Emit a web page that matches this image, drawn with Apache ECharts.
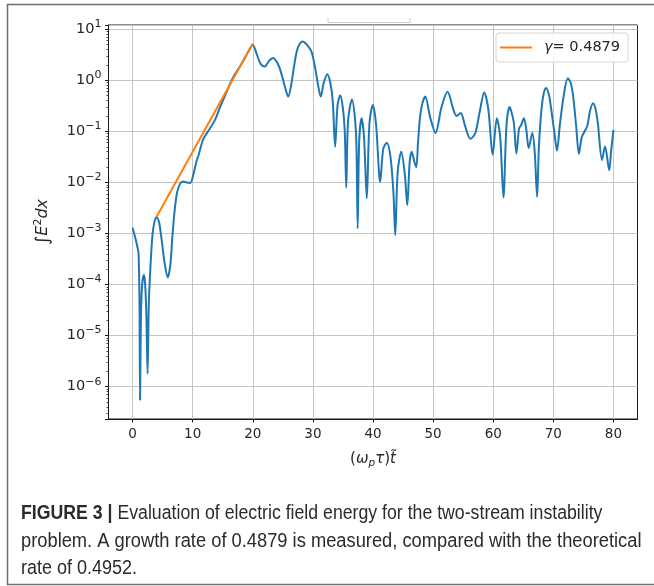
<!DOCTYPE html>
<html>
<head>
<meta charset="utf-8">
<script src="https://cdn.jsdelivr.net/npm/echarts@6/dist/echarts.min.js"></script>
<style>
  html, body { margin: 0; padding: 0; background: #ffffff; }
  #chart { width: 654px; height: 586px; }
</style>
</head>
<body>
<div id="chart"></div>
<script>
// Normalised time (omega_p tau) t~
const timeValues = [
  0, 0.4, 0.8, 1.0, 1.15, 1.25, 1.4, 1.6, 1.9, 2.1,
  2.3, 2.5, 2.7, 3.0, 3.3, 3.6, 4.0, 4.4, 4.85, 5.3,
  5.85, 6.3, 6.6, 7.0, 7.4, 7.9, 8.4, 9.0, 9.6, 10.1,
  10.6, 11.0, 11.8, 12.9, 13.7, 14.56, 15.67, 16.77, 18.17, 19.2,
  20.0, 20.7, 21.3, 22.0, 22.7, 23.4, 24.0, 24.5, 25.0, 25.4,
  25.9, 26.4, 26.9, 27.4, 27.9, 28.3, 28.8, 29.3, 29.8, 30.4,
  30.9, 31.3, 31.8, 32.4, 32.9, 33.3, 33.7, 34.1, 34.55, 35.0,
  35.3, 35.55, 35.85, 36.5, 37.0, 37.25, 37.45, 37.7, 38.1, 38.5,
  38.97, 39.4, 39.97, 40.5, 41.2, 41.7, 42.3, 42.9, 43.4, 43.7,
  44.1, 44.7, 45.3, 45.7, 46.1, 46.45, 46.9, 47.2, 47.5, 47.8,
  48.2, 48.7, 49.5, 50.4, 51.4, 52.4, 53.4, 53.9, 54.6, 55.3,
  56.2, 57.0, 57.8, 58.5, 59.2, 59.9, 60.6, 61.15, 61.7, 62.2,
  62.7, 63.4, 63.85, 64.3, 64.6, 65.1, 65.5, 65.9, 66.5, 66.9,
  67.3, 67.6, 68.0, 68.4, 68.8, 69.3, 69.75, 70.2, 70.6, 71.1,
  71.7, 72.4, 72.9, 73.3, 73.8, 74.25, 74.75, 75.6, 76.1, 76.6,
  77.0, 77.4, 78.1, 78.6, 79.3, 79.6, 80.0
];

// Integrated field energy  \int E^2 dx  at each time above
const energyValues = [
  1.3e-3, 8.7e-4, 5.5e-4, 4.0e-4, 5.0e-5, 5.5e-7, 2.5e-5, 1.0e-4, 1.55e-4, 1.0e-4,
  2.5e-5, 1.8e-6, 4.0e-5, 2.5e-4, 8.9e-4, 1.6e-3, 2.1e-3, 1.7e-3, 7.4e-4, 2.8e-4,
  1.38e-4, 2.5e-4, 8.0e-4, 2.8e-3, 6.3e-3, 9.5e-3, 1.05e-2, 1.0e-2, 9.8e-3, 1.4e-2,
  2.5e-2, 3.5e-2, 7.2e-2, 0.115, 0.166, 0.30, 0.60, 1.17, 2.14, 3.55,
  4.9, 3.16, 2.1, 1.86, 2.4, 2.75, 2.3, 1.7, 1.07, 0.71,
  0.48, 0.83, 2.0, 4.0, 5.4, 5.75, 5.25, 4.5, 3.55, 1.7,
  0.76, 0.48, 0.89, 1.32, 0.89, 0.4, 0.05, 0.32, 0.51, 0.28,
  0.1, 7.9e-3, 0.16, 0.42, 0.18, 0.05, 1.26e-3, 0.063, 0.18, 0.079,
  4.9e-3, 0.14, 0.33, 0.14, 1.02e-2, 0.045, 0.06, 0.032, 6.3e-3, 9.3e-4,
  0.0158, 0.04, 0.0141, 3.6e-3, 0.025, 0.04, 0.025, 0.02, 0.063, 0.18,
  0.35, 0.48, 0.19, 0.093, 0.30, 0.60, 0.26, 0.20, 0.23, 0.13,
  0.072, 0.091, 0.26, 0.575, 0.26, 0.035, 0.18, 0.079, 5.1e-3, 0.126,
  0.30, 0.155, 0.037, 0.115, 0.13, 0.18, 0.11, 0.047, 0.093, 0.04,
  5.2e-3, 0.05, 0.25, 0.56, 0.71, 0.50, 0.22, 0.089, 0.042, 0.14,
  0.48, 1.1, 0.89, 0.48, 0.126, 0.036, 0.079, 0.123, 0.25, 0.355,
  0.28, 0.145, 0.0275, 0.051, 0.0174, 0.04, 0.107
];

// Exponential growth fit over the linear phase
const growthRate = 0.4879;
const fitTimes = [4, 20];
const fitStartEnergy = 2.14e-3;

// Axis ticks
const xTicks = [0, 10, 20, 30, 40, 50, 60, 70, 80];
const yDecades = [-6, -5, -4, -3, -2, -1, 0, 1];

const fieldEnergy = timeValues.map((t, i) => [t, energyValues[i]]);
const growthFit = fitTimes.map(t => [t, fitStartEnergy * Math.exp(growthRate * (t - fitTimes[0]))]);
const fitName = 'gamma';

const supMap = { '-': '\u2212' };
function decadeLabel(value) {
  const e = Math.log10(value);
  const r = Math.round(e);
  if (Math.abs(e - r) > 1e-6 || yDecades.indexOf(r) < 0) return '';
  const expText = String(r).split('').map(c => supMap[c] || c).join('');
  return '{b|10}{s|' + expText + '}';
}

const textColor = '#262626';
const spineColor = '#1a1a1a';
const gridColor = '#c4c4c4';
const chart = echarts.init(document.getElementById('chart'), null, { renderer: 'canvas' });

chart.setOption({
  animation: false,
  backgroundColor: '#ffffff',
  textStyle: { fontFamily: 'DejaVu Sans' },
  grid: {
    left: 108.5, top: 25, width: 529, height: 394,
    show: true, borderColor: spineColor, borderWidth: 1, backgroundColor: 'transparent'
  },
  legend: {
    data: [fitName],
    left: 496, top: 33,
    orient: 'vertical',
    padding: [7, 8, 7, 4],
    icon: 'rect',
    itemWidth: 32, itemHeight: 2,
    backgroundColor: 'rgba(255,255,255,0.85)',
    borderColor: '#d5d5d5', borderWidth: 1, borderRadius: 3,
    formatter: () => '{g|\u03b3}{n|= 0.4879}',
    textStyle: {
      color: textColor,
      rich: {
        g: { fontFamily: 'DejaVu Sans', fontStyle: 'italic', fontSize: 14.5, color: textColor, padding: [0, 0, 0, 7] },
        n: { fontFamily: 'DejaVu Sans', fontSize: 14.5, color: textColor }
      }
    }
  },
  xAxis: {
    type: 'value',
    min: -4, max: 84,
    name: '{p|(}{i|\u03c9}{sub|p}{i|\u03c4}{p|)}{i|t\u0303}',
    nameLocation: 'middle', nameGap: 31,
    nameTextStyle: {
      rich: {
        p: { fontFamily: 'DejaVu Sans', fontSize: 15, color: textColor },
        i: { fontFamily: 'DejaVu Sans', fontStyle: 'italic', fontSize: 15, color: textColor },
        sub: { fontFamily: 'DejaVu Sans', fontStyle: 'italic', fontSize: 10.5, color: textColor, padding: [8, 0, 0, 0] }
      }
    },
    axisLine: { show: true, onZero: false, lineStyle: { color: spineColor, width: 1 } },
    axisTick: { show: true, length: 3.5, inside: false, customValues: xTicks, lineStyle: { color: spineColor } },
    axisLabel: {
      margin: 8, fontSize: 13.5, color: textColor, fontFamily: 'DejaVu Sans',
      customValues: xTicks
    },
    splitLine: { show: true, lineStyle: { color: gridColor, width: 1 } }
  },
  yAxis: {
    type: 'log', logBase: 10,
    min: 2.33e-7, max: 12.13,
    splitNumber: 8,
    name: '{s|\u222b}{i|E}{sup|2}{i|dx}',
    nameLocation: 'middle', nameGap: 55, nameRotate: 90,
    nameTextStyle: {
      rich: {
        s: { fontFamily: 'DejaVu Sans', fontSize: 18, color: textColor },
        i: { fontFamily: 'DejaVu Sans', fontStyle: 'italic', fontSize: 16, color: textColor },
        sup: { fontFamily: 'DejaVu Sans', fontSize: 11, color: textColor, padding: [0, 0, 10, 0] }
      }
    },
    axisLine: { show: true, onZero: false, lineStyle: { color: spineColor, width: 1 } },
    axisTick: { show: true, length: 3.5, inside: false, lineStyle: { color: spineColor } },
    minorTick: { show: true, splitNumber: 9, length: 2, lineStyle: { color: spineColor, width: 0.8 } },
    axisLabel: {
      margin: 7, color: textColor,
      showMinLabel: false, showMaxLabel: false,
      formatter: decadeLabel,
      rich: {
        b: { fontFamily: 'DejaVu Sans', fontSize: 14.5, color: textColor },
        s: { fontFamily: 'DejaVu Sans', fontSize: 11, color: textColor, padding: [0, 0, 10, 0] }
      }
    },
    splitLine: { show: true, lineStyle: { color: gridColor, width: 1 } },
    minorSplitLine: { show: false }
  },
  series: [
    {
      name: 'energy',
      type: 'line',
      data: fieldEnergy,
      showSymbol: false, symbol: 'none',
      smooth: 0.3,
      lineStyle: { color: '#1f77b4', width: 2 },
      itemStyle: { color: '#1f77b4' },
      z: 2
    },
    {
      name: fitName,
      type: 'line',
      data: growthFit,
      showSymbol: false, symbol: 'none',
      lineStyle: { color: '#ff7f0e', width: 2 },
      itemStyle: { color: '#ff7f0e' },
      z: 3
    }
  ],
  graphic: [
    {
      type: 'rect', silent: true,
      shape: { x: 7.5, y: 4.5, width: 700, height: 580 },
      style: { fill: 'none', stroke: '#707070', lineWidth: 1.5 }
    },
    {
      type: 'polyline', silent: true,
      shape: { points: [[328, 18], [328, 22.5], [410, 22.5], [410, 18]] },
      style: { fill: 'none', stroke: '#d0d0d0', lineWidth: 1 }
    },
    {
      type: 'group', left: 21, top: 503,
      children: [
        { type: 'text', x: 0, y: 0, scaleX: 0.885,
          style: { text: '{b|FIGURE 3 |} Evaluation of electric field energy for the two-stream instability',
            font: '20px "Liberation Sans"', fill: '#2b2b2b',
            rich: { b: { fontFamily: 'Liberation Sans', fontWeight: 'bold', fontSize: 20, fill: '#2b2b2b' } } } },
        { type: 'text', x: 0, y: 28, scaleX: 0.915,
          style: { text: 'problem. A growth rate of 0.4879 is measured, compared with the theoretical',
            font: '20px "Liberation Sans"', fill: '#2b2b2b' } },
        { type: 'text', x: 0, y: 55, scaleX: 0.9,
          style: { text: 'rate of 0.4952.',
            font: '20px "Liberation Sans"', fill: '#2b2b2b' } }
      ]
    }
  ]
});
</script>
</body>
</html>
